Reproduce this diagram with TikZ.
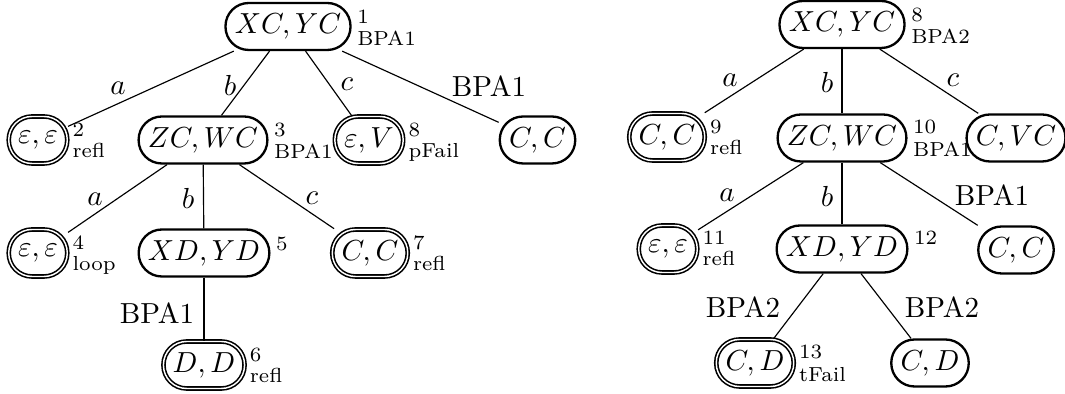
\documentclass[tikz,border=0pt]{standalone}
\begin{document}
\begin{tikzpicture}[x=0.3448pt,y=-0.3448pt,
  st/.style={draw, line width=0.8pt, rounded corners=8pt, minimum height=16.2pt, inner xsep=3.2pt, inner ysep=0pt},
  fin/.style={st, double, line width=0.55pt, double distance=0.5pt},
  sup/.style={anchor=base west, inner sep=0pt, font=\scriptsize},
  el/.style={inner sep=0pt},
  edge/.style={line width=0.4pt}]
\useasboundingbox (0,0) rectangle (1065,394);
% ---------- left tree ----------
\node[st]  (n1) at (288,26.5) {$XC,YC$};
\node[sup] (u1) at ([shift={(5,-3)}]n1.east) {1};
\node[sup] (d1) at ([shift={(5,19)}]n1.east) {BPA1};
\node[fin] (n2) at (38,140) {$\varepsilon,\varepsilon$};
\node[sup] (u2) at ([shift={(4,-3)}]n2.east) {2};
\node[sup] (d2) at ([shift={(4,18)}]n2.east) {refl};
\node[st]  (n3) at (203,140) {$ZC,WC$};
\node[sup] (u3) at ([shift={(5,-3)}]n3.east) {3};
\node[sup] (d3) at ([shift={(5,19)}]n3.east) {BPA1};
\node[fin] (n8) at (369,140) {$\varepsilon,V$};
\node[sup] (u8) at ([shift={(4,-3)}]n8.east) {8};
\node[sup] (d8) at ([shift={(4,18)}]n8.east) {pFail};
\node[st]  (ncc) at (537.5,140) {$C,C$};
\node[fin] (n4) at (38,253) {$\varepsilon,\varepsilon$};
\node[sup] (u4) at ([shift={(4,-3)}]n4.east) {4};
\node[sup] (d4) at ([shift={(4,18)}]n4.east) {loop};
\node[st]  (n5) at (204,253) {$XD,YD$};
\node[sup] (u5) at ([shift={(5,-2)}]n5.east) {5};
\node[fin] (n7) at (370,253) {$C,C$};
\node[sup] (u7) at ([shift={(4,-3)}]n7.east) {7};
\node[sup] (d7) at ([shift={(4,18)}]n7.east) {refl};
\node[fin] (n6) at (204,365) {$D,D$};
\node[sup] (u6) at ([shift={(4,-3)}]n6.east) {6};
\node[sup] (d6) at ([shift={(4,18)}]n6.east) {refl};
\draw[edge] (n1) -- (n2);
\draw[edge] (n1) -- (n3);
\draw[edge] (n1) -- (n8);
\draw[edge] (n1) -- (ncc);
\draw[edge] (n3) -- (n4);
\draw[edge] (n3) -- (n5);
\draw[edge] (n3) -- (n7);
\draw[edge] (n5) -- (n6);
\node[el] (ea1) at (118,88) {$a$};
\node[el] (eb1) at (230,85) {$b$};
\node[el] (ec1) at (347,84) {$c$};
\node[el] (ep1) at (489,86) {BPA1};
\node[el] (ea2) at (95,199) {$a$};
\node[el] (eb2) at (188,198) {$b$};
\node[el] (ec2) at (312,198) {$c$};
\node[el] (ep2) at (157,313) {BPA1};
% ---------- right tree ----------
\node[st]  (r8) at (842,24.5) {$XC,YC$};
\node[sup] (v8) at ([shift={(5,-3)}]r8.east) {8};
\node[sup] (w8) at ([shift={(5,19)}]r8.east) {BPA2};
\node[fin] (r9) at (667,137) {$C,C$};
\node[sup] (v9) at ([shift={(4,-3)}]r9.east) {9};
\node[sup] (w9) at ([shift={(4,18)}]r9.east) {refl};
\node[st]  (r10) at (842,138) {$ZC,WC$};
\node[sup] (v10) at ([shift={(5,-4)}]r10.east) {10};
\node[sup] (w10) at ([shift={(5,19)}]r10.east) {BPA1};
\node[st]  (rcvc) at (1016,138) {$C,VC$};
\node[fin] (r11) at (668,249) {$\varepsilon,\varepsilon$};
\node[sup] (v11) at ([shift={(4,-4)}]r11.east) {11};
\node[sup] (w11) at ([shift={(4,17)}]r11.east) {refl};
\node[st]  (r12) at (842,249) {$XD,YD$};
\node[sup] (v12) at ([shift={(5,-4)}]r12.east) {12};
\node[st]  (rcc) at (1016,250) {$C,C$};
\node[fin] (r13) at (755,363) {$C,D$};
\node[sup] (v13) at ([shift={(4,-4)}]r13.east) {13};
\node[sup] (w13) at ([shift={(4,19)}]r13.east) {tFail};
\node[st]  (rcd) at (930,363) {$C,D$};
\draw[edge] (r8) -- (r9);
\draw[edge] (r8) -- (r10);
\draw[edge] (r8) -- (rcvc);
\draw[edge] (r10) -- (r11);
\draw[edge] (r10) -- (r12);
\draw[edge] (r10) -- (rcc);
\draw[edge] (r12) -- (r13);
\draw[edge] (r12) -- (rcd);
\node[el] (fa1) at (730,80) {$a$};
\node[el] (fb1) at (827,82) {$b$};
\node[el] (fc1) at (953,80) {$c$};
\node[el] (fa2) at (727,195) {$a$};
\node[el] (fb2) at (827,196) {$b$};
\node[el] (fp2) at (992,195) {BPA1};
\node[el] (fp3) at (743,307) {BPA2};
\node[el] (fp4) at (942,307) {BPA2};
\end{tikzpicture}
\end{document}
